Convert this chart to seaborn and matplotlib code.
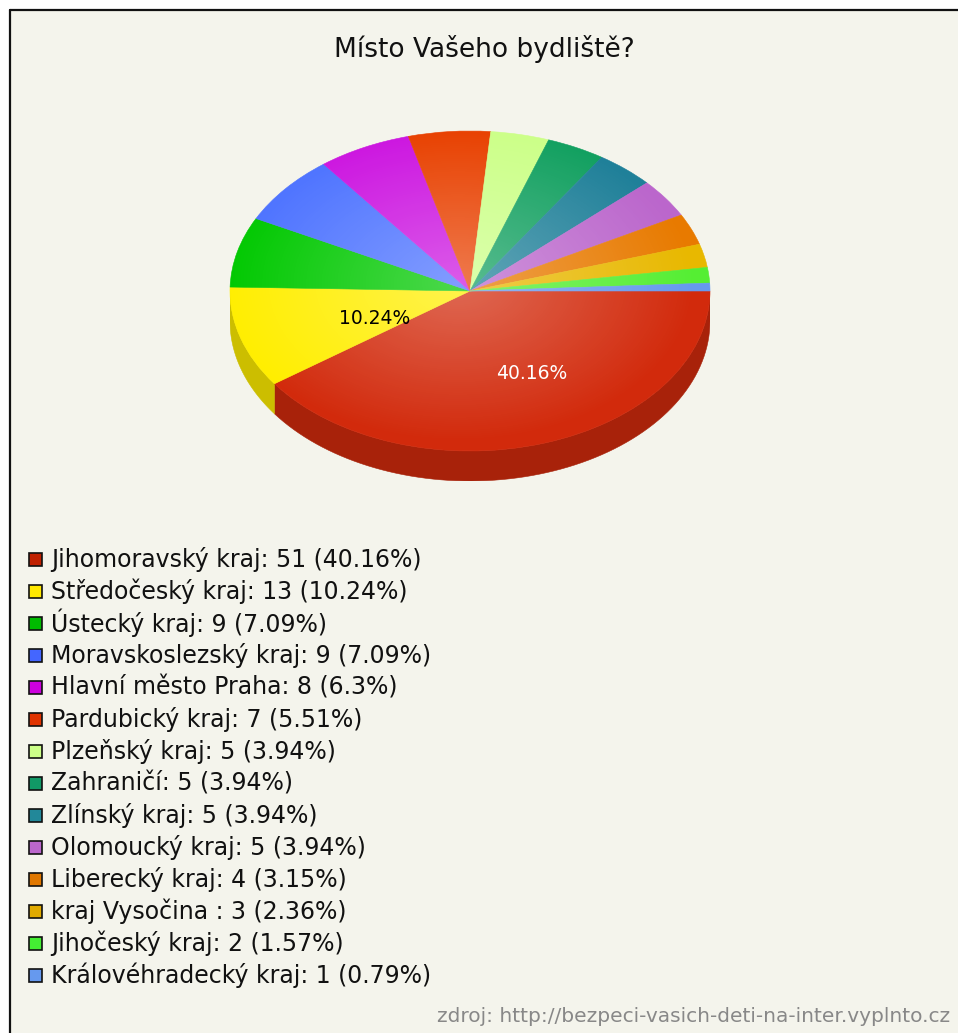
import numpy as np
import matplotlib
matplotlib.use("Agg")
import matplotlib.pyplot as plt
import matplotlib.colors as mcolors
from matplotlib.patches import Rectangle, Polygon, Circle
from matplotlib.lines import Line2D
import seaborn as sns

# DATA
regions = ["Jihomoravský kraj", "Středočeský kraj", "Ústecký kraj", "Moravskoslezský kraj",
           "Hlavní město Praha", "Pardubický kraj", "Plzeňský kraj", "Zahraničí",
           "Zlínský kraj", "Olomoucký kraj", "Liberecký kraj", "kraj Vysočina ",
           "Jihočeský kraj", "Královéhradecký kraj"]
counts = [51, 13, 9, 9, 8, 7, 5, 5, 5, 5, 4, 3, 2, 1]
slice_colors = ["#D22A0C", "#FFEE00", "#00C800", "#4C72FF", "#CC14E0", "#E84000", "#CCFF88",
                "#12A060", "#1F8099", "#BB66CC", "#E87A00", "#E8B800", "#55EE33", "#6699EE"]
legend_colors = ["#C02000", "#FFE800", "#00BB00", "#4466FF", "#CC00DD", "#E03300", "#CCFF88",
                 "#119966", "#228899", "#BB66CC", "#E07700", "#E0AA00", "#44EE33", "#6699EE"]

title = "Místo Vašeho bydliště?"
source = "zdroj: http://bezpeci-vasich-deti-na-inter.vyplnto.cz"

sns.set_style("white")
plt.rcParams['font.family'] = ['DejaVu Sans']

W, H = 958, 1033
fig = plt.figure(figsize=(W / 100, H / 100), dpi=100)
fig.patch.set_facecolor("white")

# panel background + border (left and top only)
fig.add_artist(Rectangle((10 / W, 0), 1, (H - 10) / H, transform=fig.transFigure,
                         facecolor="#F4F4EC", edgecolor="none", zorder=0))
fig.add_artist(Line2D([10 / W, 10 / W], [0, (H - 10) / H], transform=fig.transFigure,
                      color="#111111", lw=1.6))
fig.add_artist(Line2D([10 / W, 1], [(H - 10) / H] * 2, transform=fig.transFigure,
                      color="#111111", lw=1.6))

fig.text(484 / W, 1 - 49 / H, title, ha="center", va="center", fontsize=19, color="#111111")

# pie (flattened, with a fake 3d side)
depth = 30 / 160
ax = fig.add_axes([230 / W, (H - 481) / H, 480 / W, 350 / H])
total = sum(counts)


def pct_label(p):
    return f"{p:.2f}%" if p >= 10 else ""


wedges, _, autotexts = ax.pie(counts, colors=slice_colors, startangle=0, counterclock=False,
                              autopct=pct_label, pctdistance=0.52,
                              wedgeprops=dict(linewidth=0.4, zorder=1),
                              textprops=dict(fontsize=13.5))
for w, c in zip(wedges, slice_colors):
    w.set_edgecolor(c)

# side bands for the front half
for w, c in zip(wedges, slice_colors):
    a, b = max(w.theta1, -180), min(w.theta2, 0)
    if a >= b:
        continue
    t = np.radians(np.linspace(a, b, 80))
    top = np.column_stack([np.cos(t), np.sin(t)])
    bottom = np.column_stack([np.cos(t), np.sin(t) - depth])
    rgb = np.array(mcolors.to_rgb(c)) * 0.8
    ax.add_patch(Polygon(np.vstack([top, bottom[::-1]]), closed=True,
                         facecolor=rgb, edgecolor=rgb, lw=0.4, zorder=0.5))

# soft highlight towards the centre
yy, xx = np.mgrid[-1:1:400j, -1:1:400j]
rr = np.sqrt((xx + 0.05) ** 2 + (yy - 0.05) ** 2)
img = np.ones((400, 400, 4))
img[..., 3] = 0.3 * np.clip(1 - rr, 0, 1)
im = ax.imshow(img, extent=(-1, 1, -1, 1), origin="lower", zorder=2, aspect="auto")
im.set_clip_path(Circle((0, 0), 1, transform=ax.transData))

for txt, c in zip(autotexts, slice_colors[:len(autotexts)]):
    r, g, b = mcolors.to_rgb(c)
    txt.set_color("white" if 0.299 * r + 0.587 * g + 0.114 * b < 0.5 else "black")
    x0, y0 = txt.get_position()
    txt.set_position((x0 + 0.1, y0 - 0.02))
    txt.set_zorder(3)

ax.set_aspect("auto")
ax.set_xlim(-1, 1)
ax.set_ylim(-1 - depth, 1)
ax.axis("off")

# legend
for i, (name, v, c) in enumerate(zip(regions, counts, legend_colors)):
    y = 559 + i * 32.0
    p = round(v / total * 100, 2)
    fig.add_artist(Rectangle((29 / W, 1 - (y + 7) / H), 13 / W, 13 / H, transform=fig.transFigure,
                             facecolor=c, edgecolor="#111111", lw=1.2))
    fig.text(51 / W, 1 - y / H, f"{name}: {v} ({p:g}%)", ha="left", va="center",
             fontsize=17, color="#111111")

fig.text(950 / W, 1 - 1017 / H, source, ha="right", va="center", fontsize=14.5, color="#888888")

fig.savefig("out.png", dpi=100)
